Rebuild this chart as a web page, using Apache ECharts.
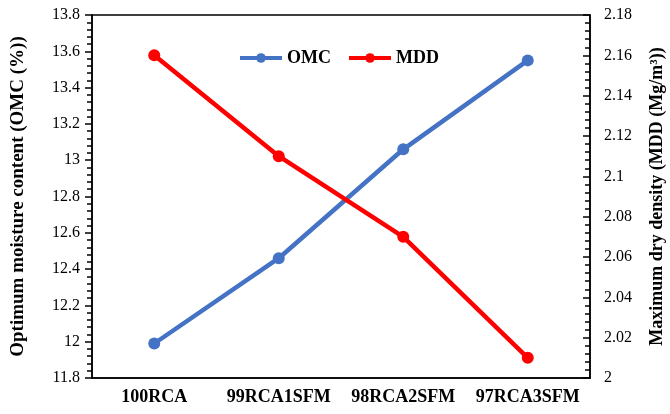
<!DOCTYPE html>
<html>
<head>
<meta charset="utf-8">
<script src="https://cdn.jsdelivr.net/npm/echarts@6/dist/echarts.min.js"></script>
<style>
  html, body { margin: 0; padding: 0; background: #fff; }
  #chart { width: 670px; height: 414px; }
</style>
</head>
<body>
<div id="chart"></div>
<script>
// Mix designs along the x axis
const categories = ['100RCA', '99RCA1SFM', '98RCA2SFM', '97RCA3SFM'];
// Optimum moisture content, %
const omcValues = [11.99, 12.46, 13.06, 13.55];
// Maximum dry density, Mg/m3
const mddValues = [2.16, 2.11, 2.07, 2.01];

const serif = '"Liberation Serif", "Times New Roman", serif';
const black = '#000';

const chart = echarts.init(document.getElementById('chart'), null, { renderer: 'canvas' });

const leftScale = { min: 11.8, max: 13.8 };
const rightScale = { min: 2.0, max: 2.18 };

function tickFmt(digits) {
  return v => (+v.toFixed(digits)).toString();
}

const tickLine = { color: black, width: 1.5 };
const minorLine = { color: black, width: 1.5 };

chart.setOption({
  animation: false,
  backgroundColor: '#fff',
  grid: {
    left: 92, right: 80, top: 15, bottom: 36,
    outerBoundsMode: 'none',
    show: true, borderColor: black, borderWidth: 1.5
  },
  legend: {
    left: 233, top: 44,
    itemWidth: 42, itemHeight: 12, itemGap: 16,
    lineStyle: { width: 4 },
    textStyle: { fontFamily: serif, fontWeight: 'bold', fontSize: 18, color: black },
    data: ['OMC', 'MDD']
  },
  xAxis: {
    type: 'category', data: categories, boundaryGap: true,
    axisLine: { onZero: false, lineStyle: { color: black, width: 1.5 } },
    axisTick: { alignWithLabel: true, length: 6, lineStyle: tickLine },
    axisLabel: { interval: 0, fontFamily: serif, fontWeight: 'bold', fontSize: 18, color: black, margin: 10 }
  },
  yAxis: [
    {
      type: 'value', position: 'left', ...leftScale, interval: 0.2,
      name: 'Optimum moisture content (OMC (%))',
      nameLocation: 'middle', nameGap: 64, nameRotate: 90,
      nameTextStyle: { fontFamily: serif, fontWeight: 'bold', fontSize: 19, color: black },
      axisLine: { show: true, onZero: false, lineStyle: { color: black, width: 1.5 } },
      axisTick: { show: true, length: 7, lineStyle: tickLine },
      minorTick: { show: true, splitNumber: 5, length: 5, lineStyle: minorLine },
      splitLine: { show: false },
      axisLabel: { fontFamily: serif, fontSize: 16, color: black, margin: 12, formatter: tickFmt(1) }
    },
    {
      type: 'value', position: 'right', ...rightScale, interval: 0.02,
      name: 'Maximum dry density (MDD (Mg/m³))',
      nameLocation: 'middle', nameGap: 58, nameRotate: 90,
      nameTextStyle: { fontFamily: serif, fontWeight: 'bold', fontSize: 18, color: black },
      axisLine: { show: true, onZero: false, lineStyle: { color: black, width: 1.5 } },
      axisTick: { show: true, inside: true, length: 7, lineStyle: tickLine },
      minorTick: { show: true, splitNumber: 5, length: 5, lineStyle: minorLine },
      splitLine: { show: false },
      axisLabel: { fontFamily: serif, fontSize: 16, color: black, margin: 14, formatter: tickFmt(2) }
    }
  ],
  series: [
    {
      name: 'OMC', type: 'line', yAxisIndex: 0, data: omcValues,
      symbol: 'circle', symbolSize: 12,
      lineStyle: { color: '#4472C4', width: 4.5 },
      itemStyle: { color: '#4472C4' }
    },
    {
      name: 'MDD', type: 'line', yAxisIndex: 1, data: mddValues,
      symbol: 'circle', symbolSize: 12,
      lineStyle: { color: '#FF0000', width: 4.5 },
      itemStyle: { color: '#FF0000' }
    }
  ]
});
</script>
</body>
</html>
